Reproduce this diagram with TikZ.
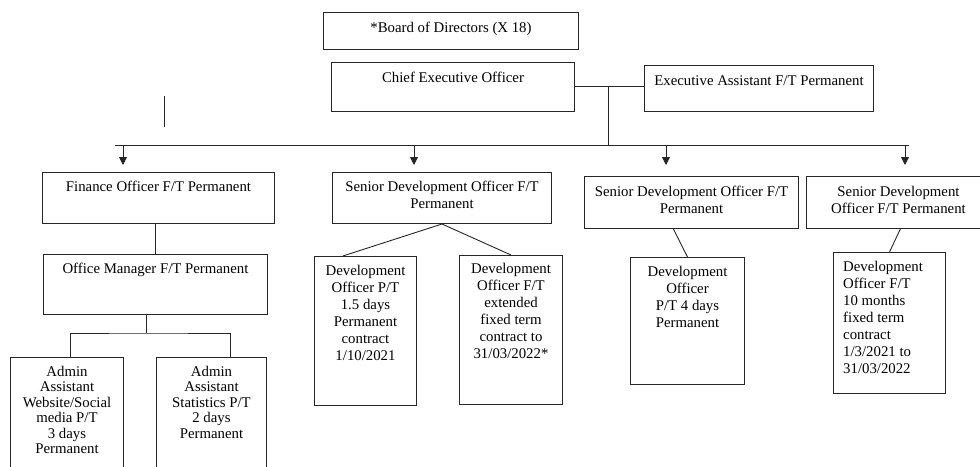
\documentclass[tikz,border=0pt]{standalone}
\usepackage{fontspec}
\setmainfont{Liberation Serif}
\usetikzlibrary{arrows.meta,calc}
\begin{document}
\begin{tikzpicture}[x=1pt,y=-1pt,
  box/.style={draw=black!85,line width=1pt,rectangle,inner sep=0pt,anchor=north west},
  txt/.style={anchor=north,inner sep=0pt,align=center,font=\fontsize{14.8}{17}\selectfont},
  txtl/.style={anchor=north west,inner sep=0pt,align=left,font=\fontsize{14.8}{17}\selectfont},
  txta/.style={anchor=north,inner sep=0pt,align=center,font=\fontsize{14.8}{15.5}\selectfont},
  ln/.style={draw=black!85,line width=0.9pt},
  arr/.style={ln,-{Triangle[width=8pt,length=8pt]}}]
\useasboundingbox (0,0) rectangle (980,466);
\clip (0,0) rectangle (980,466);
% boxes
\node[box,minimum width=255pt,minimum height=37pt] (board) at (323,12) {};
\node[box,minimum width=243pt,minimum height=49pt] (ceo) at (331,62) {};
\node[box,minimum width=229pt,minimum height=46pt] (ea) at (644,65) {};
\node[box,minimum width=232pt,minimum height=51pt] (fin) at (42,172) {};
\node[box,minimum width=224pt,minimum height=60pt] (om) at (43,254) {};
\node[box,minimum width=113pt,minimum height=120pt] (adm1) at (10,357) {};
\node[box,minimum width=110pt,minimum height=120pt] (adm2) at (156,357) {};
\node[box,minimum width=219pt,minimum height=51pt] (sd1) at (332,172) {};
\node[box,minimum width=102pt,minimum height=149pt] (dev1) at (314,256) {};
\node[box,minimum width=103pt,minimum height=149pt] (dev2) at (459,255) {};
\node[box,minimum width=214pt,minimum height=52pt] (sd2) at (584,176) {};
\node[box,minimum width=184pt,minimum height=52pt] (sd3) at (806,176) {};
\node[box,minimum width=114pt,minimum height=127pt] (dev3) at (630,257) {};
\node[box,minimum width=112pt,minimum height=141pt] (dev4) at (833,252) {};
% texts
\node[txt] (tboard) at ([yshift=-10pt]board.north) {*Board of Directors (X 18)};
\node[txt] (tceo) at ([yshift=-10pt]ceo.north) {Chief Executive Officer};
\node[txt] (tea) at ([yshift=-10pt]ea.north) {Executive Assistant F/T Permanent};
\node[txt] (tfin) at ([yshift=-9pt]fin.north) {Finance Officer F/T Permanent};
\node[txt] (tom) at ([yshift=-9pt]om.north) {Office Manager F/T Permanent};
\node[txta] (tadm1) at ([yshift=-9pt]adm1.north) {Admin\\Assistant\\Website/Social\\media P/T\\3 days\\Permanent};
\node[txta] (tadm2) at ([yshift=-9pt]adm2.north) {Admin\\Assistant\\Statistics P/T\\2 days\\Permanent};
\node[txt] (tsd1) at ([yshift=-9pt]sd1.north) {Senior Development Officer F/T\\Permanent};
\node[txt] (tdev1) at ([yshift=-9pt]dev1.north) {Development\\Officer P/T\\1.5 days\\Permanent\\contract\\1/10/2021};
\node[txt] (tdev2) at ([yshift=-8pt]dev2.north) {Development\\Officer F/T\\extended\\fixed term\\contract to\\31/03/2022*};
\node[txt] (tsd2) at ([yshift=-10pt]sd2.north) {Senior Development Officer F/T\\Permanent};
\node[txt] (tsd3) at ([yshift=-10pt]sd3.north) {Senior Development\\Officer F/T Permanent};
\node[txt] (tdev3) at ([yshift=-9pt]dev3.north) {Development\\Officer\\P/T 4 days\\Permanent};
\node[txtl] (tdev4) at ([xshift=10pt,yshift=-9pt]dev4.north west) {Development\\Officer F/T\\10 months\\fixed term\\contract\\1/3/2021 to\\31/03/2022};
% connectors
\coordinate (j1) at (608,86);
\coordinate (busL) at (115,145);
\coordinate (busR) at (909,145);
\coordinate (b1) at (123,145);
\coordinate (b2) at (414,145);
\coordinate (b3) at (666,145);
\coordinate (b4) at (905,145);
\draw[ln] (ceo.east |- j1) -- (ea.west |- j1);
\draw[ln] (j1) -- (j1 |- busL);
\draw[ln] (busL) -- (busR);
\draw[arr,shorten >=7pt] (b1) -- (b1 |- fin.north);
\draw[arr,shorten >=7pt] (b2) -- (b2 |- sd1.north);
\draw[arr,shorten >=11pt] (b3) -- (b3 |- sd2.north);
\draw[arr,shorten >=11pt] (b4) -- (b4 |- sd3.north);
\coordinate (s1) at (164,96);
\coordinate (s2) at (164,127);
\draw[ln] (s1) -- (s2);
\draw[ln] (fin.south -| om.north) -- (om.north);
\coordinate (oms) at ($(om.south west)!0.46!(om.south east)$);
\coordinate (a1t) at ($(adm1.north west)!0.53!(adm1.north east)$);
\coordinate (a2t) at ($(adm2.north west)!0.67!(adm2.north east)$);
\draw[ln] (oms) -- ++(0,18) coordinate (split);
\draw[ln] (a1t) |- (split) -| (a2t);
\draw[ln] (sd1.south) -- ($(dev1.north west)!0.28!(dev1.north east)$);
\draw[ln] (sd1.south) -- (dev2.north);
\draw[ln] ($(sd2.south west)!0.416!(sd2.south east)$) -- (dev3.north);
\draw[ln] ($(sd3.south west)!0.51!(sd3.south east)$) -- (dev4.north);
\end{tikzpicture}
\end{document}
